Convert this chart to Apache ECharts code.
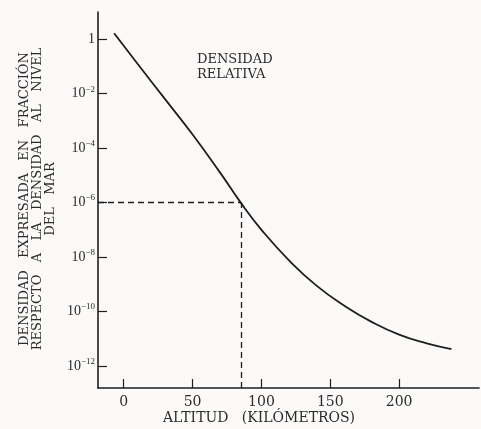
<!DOCTYPE html>
<html>
<head>
<meta charset="utf-8">
<script src="https://cdn.jsdelivr.net/npm/echarts@6/dist/echarts.min.js"></script>
<style>
html,body{margin:0;padding:0;background:#fbfaf9;}
#c{width:481px;height:429px;}
</style>
</head>
<body>
<div id="c"></div>
<script>
// Altitude (km) and relative density, as log10 of fraction of sea-level density
var altitudeKm = [-7, 10, 30, 50, 70, 85.2, 100, 120, 140, 160, 180, 200, 220, 238];
var densityExp = [0.22, -0.90, -2.20, -3.50, -4.90, -6.02, -7.0, -8.12, -9.05, -9.78, -10.38, -10.85, -11.17, -11.38];
var xTicks = [0, 50, 100, 150, 200];
var yTickExps = [0, -2, -4, -6, -8, -10, -12];
var markAltitude = 85.2;
var markExp = -6;
var xRange = [-18.7, 258];
var yRange = [-12.81, 1];

var serif = '"Liberation Serif","DejaVu Serif",serif';
var wideSerif = '"DejaVu Serif","Liberation Serif",serif';
var ink = '#1e1e1e';
var txt = '#2b2b2b';
var seriesData = altitudeKm.map(function (a, i) { return [a, densityExp[i]]; });

var chart = echarts.init(document.getElementById('c'), null, {renderer: 'canvas'});
chart.setOption({
  backgroundColor: '#fbfaf9',
  animation: false,
  grid: {left: 98, right: 2, top: 12, bottom: 41},
  xAxis: {
    type: 'value', min: xRange[0], max: xRange[1],
    splitLine: {show: false},
    axisLine: {show: true, onZero: false, lineStyle: {color: ink, width: 1.6}},
    axisTick: {show: true, inside: true, length: 9, customValues: xTicks, lineStyle: {color: ink, width: 1.2}},
    axisLabel: {customValues: xTicks, margin: 7, fontFamily: wideSerif, fontSize: 14, color: txt}
  },
  yAxis: {
    type: 'value', min: yRange[0], max: yRange[1],
    splitLine: {show: false},
    axisLine: {show: true, onZero: false, lineStyle: {color: ink, width: 1.6}},
    axisTick: {show: true, inside: true, length: 9, customValues: yTickExps, lineStyle: {color: ink, width: 1.2}},
    axisLabel: {
      customValues: yTickExps, margin: 3, color: txt,
      formatter: function (v) {
        if (v === 0) return '{b|1}';
        return '{b|10}{s|\u2212' + Math.abs(v) + '}';
      },
      rich: {
        b: {fontFamily: serif, fontSize: 14, color: txt},
        s: {fontFamily: serif, fontSize: 9, color: txt, padding: [0, 0, 9, 0]}
      }
    }
  },
  series: [{
    type: 'line', data: seriesData, smooth: 0.5, showSymbol: false,
    lineStyle: {color: ink, width: 1.8},
    markLine: {
      silent: true, symbol: 'none', label: {show: false},
      lineStyle: {color: ink, width: 1.3, type: [6, 4]},
      data: [
        [{coord: [xRange[0], markExp]}, {coord: [markAltitude, markExp]}],
        [{coord: [markAltitude, yRange[0]]}, {coord: [markAltitude, markExp]}]
      ]
    }
  }],
  graphic: [
    {type: 'text', left: 197, top: 52, style: {text: 'DENSIDAD\nRELATIVA', fontFamily: wideSerif, fontSize: 13, lineHeight: 15, fill: txt, align: 'left'}},
    {type: 'text', x: 163, y: 411, style: {text: 'ALTITUD   (KILÓMETROS)', fontFamily: wideSerif, fontSize: 14, fill: txt}},
    {type: 'text', x: 38, y: 199, rotation: Math.PI / 2, style: {
      text: 'DENSIDAD   EXPRESADA   EN   FRACCIÓN\nRESPECTO   A   LA   DENSIDAD   AL   NIVEL\nDEL   MAR',
      fontFamily: wideSerif, fontSize: 13, lineHeight: 13, fill: txt, align: 'center', verticalAlign: 'middle'}}
  ]
});
</script>
</body>
</html>
